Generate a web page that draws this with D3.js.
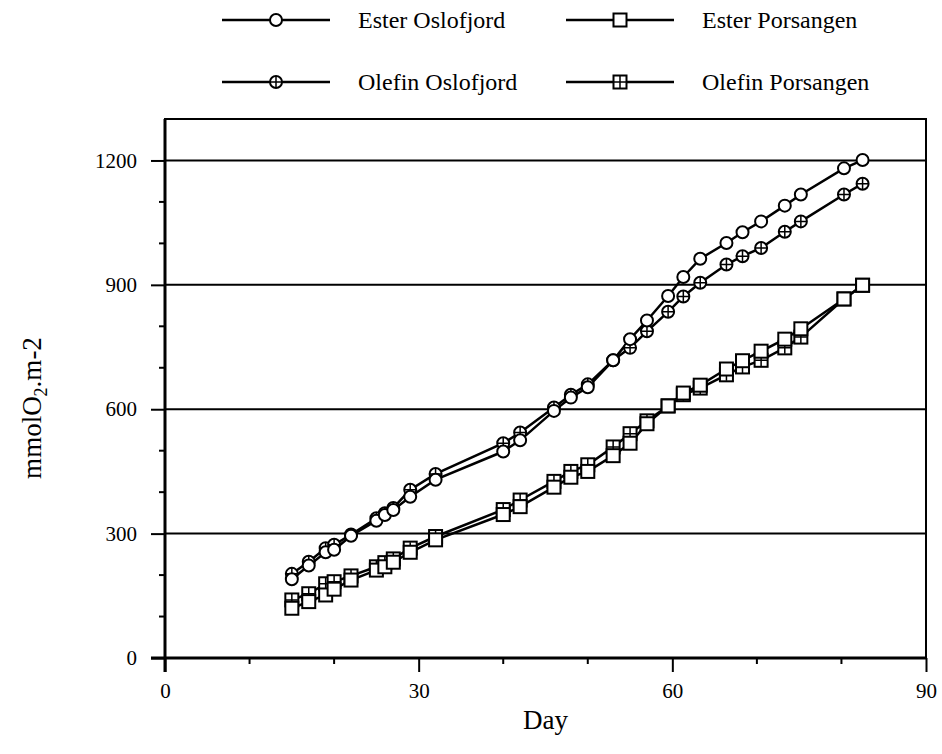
<!DOCTYPE html>
<html>
<head>
<meta charset="utf-8">
<script src="https://cdn.jsdelivr.net/npm/d3@7"></script>
<style>
  body { margin: 0; background: #fff; }
  svg text { font-family: "Liberation Serif", "Times New Roman", serif; fill: #000; }
</style>
</head>
<body>
<div id="chart"></div>
<script>
// data
var days = [15, 17, 19, 20, 22, 25, 26, 27, 29, 32, 40, 42, 46, 48, 50, 53, 55, 57, 59.5, 61.3, 63.3, 66.4, 68.3, 70.5, 73.3, 75.2, 80.3, 82.5]
var esterOslo = [190, 223, 255, 261, 295, 331, 345, 357, 389, 430, 498, 525, 596, 628, 653, 718, 769, 814, 873, 919, 963, 1001, 1027, 1053, 1091, 1118, 1181, 1201]
var olefinOslo = [203, 232, 265, 273, 298, 337, 349, 362, 406, 444, 518, 544, 604, 635, 660, 718, 748, 788, 835, 872, 905, 949, 969, 989, 1028, 1053, 1118, 1144]
var esterPors = [120, 136, 152, 166, 188, 212, 220, 231, 255, 285, 346, 365, 412, 436, 450, 488, 518, 565, 608, 639, 658, 697, 717, 740, 769, 794, 866, 899]
var olefinPors = [140, 155, 179, 184, 198, 220, 230, 239, 265, 293, 358, 381, 426, 450, 466, 509, 541, 572, 608, 635, 651, 683, 702, 718, 748, 774, 866, 899]

var xMajor = [0, 30, 60, 90]
var xMinor = [10, 20, 40, 50, 70, 80]
var yMajor = [0, 300, 600, 900, 1200]
var yMinor = [100, 200, 400, 500, 700, 800, 1000, 1100]

var seriesNames = ["Ester Oslofjord", "Ester Porsangen", "Olefin Oslofjord", "Olefin Porsangen"]
var seriesShapes = ["circle", "square", "circlecross", "squarecross"]
var seriesValues = [esterOslo, esterPors, olefinOslo, olefinPors]

var width = 942, height = 754
var svg = d3.select("#chart").append("svg")
    .attr("width", width)
    .attr("height", height)

var x = d3.scaleLinear().domain([0, 90]).range([165, 926])
var y = d3.scaleLinear().domain([0, 1300]).range([658, 119])

// grid lines
svg.selectAll(".grid")
    .data(yMajor.filter(function(d) { return d > 0 }))
    .enter().append("line")
    .attr("x1", x(0)).attr("x2", x(90))
    .attr("y1", function(d) { return y(d) }).attr("y2", function(d) { return y(d) })
    .attr("stroke", "#000").attr("stroke-width", 2)

// frame
svg.append("rect")
    .attr("x", x(0)).attr("y", y(1300))
    .attr("width", x(90) - x(0)).attr("height", y(0) - y(1300))
    .attr("fill", "none").attr("stroke", "#000").attr("stroke-width", 2)

// x axis
var xAxis = svg.append("g").attr("transform", "translate(0," + y(0) + ")")
xAxis.call(d3.axisBottom(x).tickValues(xMajor).tickSize(14).tickFormat(d3.format("d")))
xAxis.select(".domain").remove()
xAxis.selectAll(".tick line").attr("stroke-width", 2)
xAxis.selectAll(".tick text").attr("font-size", 21).attr("dy", "0").attr("y", 40)
xAxis.selectAll(".minor").data(xMinor).enter().append("line")
    .attr("x1", function(d) { return x(d) }).attr("x2", function(d) { return x(d) })
    .attr("y1", 0).attr("y2", 6).attr("stroke", "#000").attr("stroke-width", 2)
xAxis.append("line").attr("x1", x(0) - 14).attr("x2", x(90))
    .attr("stroke", "#000").attr("stroke-width", 3)

// y axis
var yAxis = svg.append("g").attr("transform", "translate(" + x(0) + ",0)")
yAxis.call(d3.axisLeft(y).tickValues(yMajor).tickSize(14).tickFormat(d3.format("d")))
yAxis.select(".domain").remove()
yAxis.selectAll(".tick line").attr("stroke-width", 2)
yAxis.selectAll(".tick text").attr("font-size", 21).attr("x", -28)
yAxis.selectAll(".minor").data(yMinor).enter().append("line")
    .attr("y1", function(d) { return y(d) }).attr("y2", function(d) { return y(d) })
    .attr("x1", 0).attr("x2", -6).attr("stroke", "#000").attr("stroke-width", 2)
yAxis.append("line").attr("y1", y(1300)).attr("y2", y(0) + 14)
    .attr("stroke", "#000").attr("stroke-width", 3)

// axis titles
svg.append("text")
    .attr("x", (x(0) + x(90)) / 2).attr("y", 729)
    .attr("text-anchor", "middle").attr("font-size", 27)
    .text("Day")

var yTitle = svg.append("text")
    .attr("transform", "translate(41,408) rotate(-90)")
    .attr("text-anchor", "middle").attr("font-size", 27)
yTitle.append("tspan").text("mmolO")
yTitle.append("tspan").attr("font-size", 18).attr("dy", 6).text("2")
yTitle.append("tspan").attr("dy", -6).text(".m-2")

// marker drawing
function drawMarker(g, shape, cx, cy) {
    if (shape === "circle" || shape === "circlecross") {
        g.append("circle").attr("cx", cx).attr("cy", cy).attr("r", 6)
            .attr("fill", "#fff").attr("stroke", "#000").attr("stroke-width", 2)
    } else {
        g.append("rect").attr("x", cx - 6.5).attr("y", cy - 6.5)
            .attr("width", 13).attr("height", 13)
            .attr("fill", "#fff").attr("stroke", "#000").attr("stroke-width", 2)
    }
    if (shape === "circlecross" || shape === "squarecross") {
        g.append("path")
            .attr("d", "M" + cx + "," + (cy - 6) + "V" + (cy + 6) + "M" + (cx - 6) + "," + cy + "H" + (cx + 6))
            .attr("stroke", "#000").attr("stroke-width", 1.5)
    }
}

var line = d3.line()
    .x(function(d) { return x(d[0]) })
    .y(function(d) { return y(d[1]) })

// draw order: olefin first, ester on top
var order = [3, 2, 1, 0]
order.forEach(function(i) {
    var pts = days.map(function(d, k) { return [d, seriesValues[i][k]] })
    svg.append("path").datum(pts)
        .attr("d", line)
        .attr("fill", "none").attr("stroke", "#000").attr("stroke-width", 2.5)
})
order.forEach(function(i) {
    var g = svg.append("g")
    days.forEach(function(d, k) {
        drawMarker(g, seriesShapes[i], x(d), y(seriesValues[i][k]))
    })
})

// legend
var legendX = [222, 566]
var legendY = [20, 82]
seriesNames.forEach(function(name, i) {
    var lx = legendX[i % 2], ly = legendY[Math.floor(i / 2)]
    var g = svg.append("g")
    g.append("line").attr("x1", lx).attr("x2", lx + 108)
        .attr("y1", ly).attr("y2", ly)
        .attr("stroke", "#000").attr("stroke-width", 2.5)
    drawMarker(g, seriesShapes[i], lx + 54, ly)
    g.append("text").attr("x", lx + 136).attr("y", ly + 8)
        .attr("font-size", 24).text(name)
})
</script>
</body>
</html>
